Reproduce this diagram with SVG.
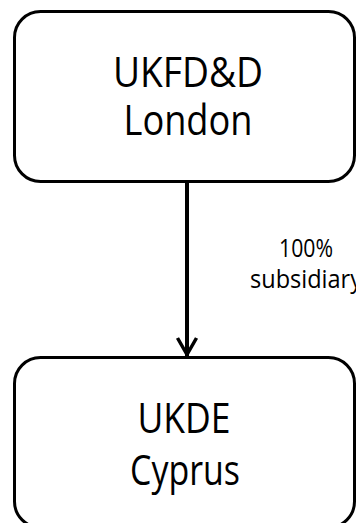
<svg xmlns="http://www.w3.org/2000/svg" width="356" height="523" viewBox="0 0 356 523">
<style>
.box{fill:#fff;stroke:#000;stroke-width:3}
.t{font-family:"Open Sans","Noto Sans",sans-serif;fill:#000;text-anchor:middle}
.big{font-size:42px}
.small{font-size:25px}
.conn{stroke:#000;stroke-width:4;fill:none}
</style>
<defs>
<marker id="arr" markerUnits="userSpaceOnUse" markerWidth="26" markerHeight="26" viewBox="-22 -13 26 26" refX="0" refY="0" orient="auto">
<path d="M-18,-9.5 L-1.5,0 L-18,9.5" fill="none" stroke="#000" stroke-width="3.5" stroke-linejoin="miter"/>
</marker>
</defs>
<g id="connectors">
<line class="conn" x1="187" y1="183" x2="187" y2="356" marker-end="url(#arr)"/>
<text class="t small" x="306" y="257" textLength="54" lengthAdjust="spacingAndGlyphs">100%</text>
<text class="t small" x="306" y="288" textLength="112" lengthAdjust="spacingAndGlyphs">subsidiary</text>
</g>
<g id="node-ukfdd">
<rect class="box" x="14.5" y="11.5" width="340" height="170" rx="26"/>
<text class="t big" x="188" y="87" textLength="150" lengthAdjust="spacingAndGlyphs">UKFD&amp;D</text>
<text class="t big" x="188" y="135" textLength="129" lengthAdjust="spacingAndGlyphs">London</text>
</g>
<g id="node-ukde">
<rect class="box" x="14.5" y="357.5" width="340" height="170" rx="26"/>
<text class="t big" x="184" y="433" textLength="93" lengthAdjust="spacingAndGlyphs">UKDE</text>
<text class="t big" x="185" y="485" textLength="110" lengthAdjust="spacingAndGlyphs">Cyprus</text>
</g>
</svg>
